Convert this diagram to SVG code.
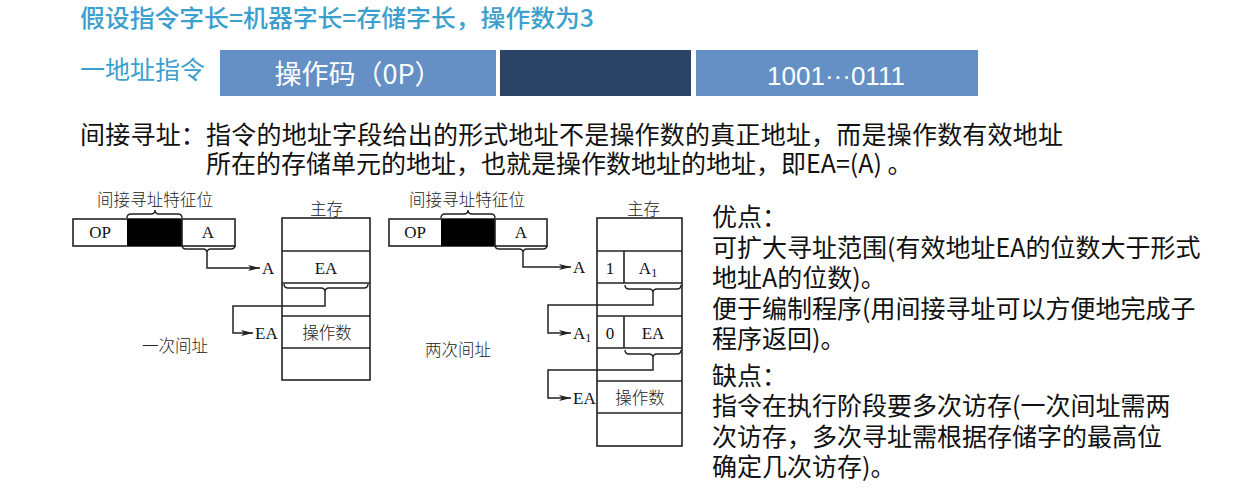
<svg xmlns="http://www.w3.org/2000/svg" width="1241" height="491" viewBox="0 0 1241 491">
<style>
.hd{font-family:"Noto Sans CJK SC","Liberation Sans",sans-serif;fill:#3c9fce}
.bartxt{font-family:"Noto Sans CJK SC","Liberation Sans",sans-serif;fill:#ffffff}
.num{font-family:"Liberation Sans",Arial,sans-serif;fill:#ffffff}
.body{font-family:"Noto Sans CJK SC","Liberation Sans",sans-serif;fill:#111;font-size:25px}
.cj{font-family:"Noto Sans CJK SC",sans-serif;fill:#222;font-size:16.5px;font-weight:300}
.sf{font-family:"Liberation Serif",serif;fill:#111;font-size:17px}
.box{fill:none;stroke:#222;stroke-width:1.6}
.ln{fill:none;stroke:#222;stroke-width:1.5}
.br{fill:none;stroke:#222;stroke-width:1.4}
</style>
<defs>
<marker id="arr" viewBox="0 0 12 6" refX="12" refY="3" markerWidth="12" markerHeight="6" markerUnits="userSpaceOnUse" orient="auto">
<path d="M0,0 L12,3 L0,6 L3,3 Z" fill="#222"/>
</marker>
</defs>
<rect width="1241" height="491" fill="#ffffff"/>

<g id="title">
<text class="hd" x="80" y="27" font-size="24" font-weight="500" textLength="514" lengthAdjust="spacingAndGlyphs">假设指令字长=机器字长=存储字长，操作数为3</text>
</g>
<g id="label-one-address">
<text class="hd" x="80" y="79" font-size="25">一地址指令</text>
</g>
<g id="bar-opcode">
<rect x="220" y="50" width="276" height="46" fill="#6590c6"/>
<text class="bartxt" x="358" y="84" font-size="27" text-anchor="middle">操作码（0P）</text>
</g>
<g id="bar-mode">
<rect x="500" y="50" width="191" height="46" fill="#2b4466"/>
</g>
<g id="bar-address">
<rect x="696" y="50" width="282" height="46" fill="#6590c6"/>
<text class="num" x="836" y="85" font-size="26" text-anchor="middle">1001···0111</text>
</g>

<g id="definition">
<text class="body" x="80" y="144" textLength="983">间接寻址：指令的地址字段给出的形式地址不是操作数的真正地址，而是操作数有效地址</text>
<text class="body" x="206" y="173">所在的存储单元的地址，也就是操作数地址的地址，即EA=(A) 。</text>
</g>

<g id="left-instruction">
<text class="cj" x="97" y="206" textLength="116">间接寻址特征位</text>
<path class="br" d="M127,218 Q127,214 131,214 L151,214 Q155,214 155,210 Q155,214 159,214 L178,214 Q182,214 182,218"/>
<rect class="box" x="73" y="219" width="162" height="27"/>
<rect x="127" y="219" width="55" height="27" fill="#000"/>
<line class="box" x1="182" y1="219" x2="182" y2="246"/>
<text class="sf" x="100" y="238" text-anchor="middle">OP</text>
<text class="sf" x="208" y="238" text-anchor="middle">A</text>
<path class="br" d="M182,245 Q182,249 186,249 L203,249 Q207,249 207,253 Q207,249 211,249 L231,249 Q235,249 235,245"/>
</g>

<g id="left-memory">
<text class="cj" x="310" y="215">主存</text>
<rect class="box" x="282" y="218" width="88" height="162"/>
<line class="box" x1="282" y1="251" x2="370" y2="251"/>
<line class="box" x1="282" y1="283" x2="370" y2="283"/>
<line class="box" x1="282" y1="316" x2="370" y2="316"/>
<line class="box" x1="282" y1="348" x2="370" y2="348"/>
<text class="sf" x="326" y="274" text-anchor="middle">EA</text>
<text class="cj" x="327" y="339" text-anchor="middle">操作数</text>
<path class="br" d="M284,284 Q284,288 288,288 L321,288 Q325,288 325,292 Q325,288 329,288 L364,288 Q368,288 368,284"/>
<text class="sf" x="262" y="274">A</text>
<text class="sf" x="255" y="339">EA</text>
</g>
<g id="left-caption">
<text class="cj" x="142" y="352">一次间址</text>
</g>

<g id="right-instruction">
<text class="cj" x="409" y="206" textLength="116">间接寻址特征位</text>
<path class="br" d="M441,218 Q441,214 445,214 L464,214 Q468,214 468,210 Q468,214 472,214 L491,214 Q495,214 495,218"/>
<rect class="box" x="389" y="219" width="158" height="27"/>
<rect x="441" y="219" width="54" height="27" fill="#000"/>
<line class="box" x1="495" y1="219" x2="495" y2="246"/>
<text class="sf" x="415" y="238" text-anchor="middle">OP</text>
<text class="sf" x="521" y="238" text-anchor="middle">A</text>
<path class="br" d="M495,245 Q495,249 499,249 L519,249 Q523,249 523,253 Q523,249 527,249 L543,249 Q547,249 547,245"/>
</g>

<g id="right-memory">
<text class="cj" x="627" y="215">主存</text>
<rect class="box" x="597" y="218" width="85" height="228"/>
<line class="box" x1="597" y1="251" x2="682" y2="251"/>
<line class="box" x1="597" y1="283" x2="682" y2="283"/>
<line class="box" x1="597" y1="316" x2="682" y2="316"/>
<line class="box" x1="597" y1="348" x2="682" y2="348"/>
<line class="box" x1="597" y1="381" x2="682" y2="381"/>
<line class="box" x1="597" y1="413" x2="682" y2="413"/>
<line class="box" x1="624" y1="251" x2="624" y2="283"/>
<line class="box" x1="624" y1="316" x2="624" y2="348"/>
<text class="sf" x="610" y="274" text-anchor="middle">1</text>
<text class="sf" x="648" y="274" text-anchor="middle">A<tspan font-size="12" dy="3">1</tspan></text>
<text class="sf" x="610" y="339" text-anchor="middle">0</text>
<text class="sf" x="653" y="339" text-anchor="middle">EA</text>
<text class="cj" x="640" y="404" text-anchor="middle">操作数</text>
<path class="br" d="M625,285 Q625,289 629,289 L649,289 Q653,289 653,293 Q653,289 657,289 L677,289 Q681,289 681,285"/>
<path class="br" d="M625,350 Q625,354 629,354 L649,354 Q653,354 653,358 Q653,354 657,354 L677,354 Q681,354 681,350"/>
<text class="sf" x="573" y="273">A</text>
<text class="sf" x="573" y="339">A<tspan font-size="12" dy="3">1</tspan></text>
<text class="sf" x="573" y="404">EA</text>
</g>
<g id="right-caption">
<text class="cj" x="425" y="356">两次间址</text>
</g>

<g id="connectors">
<polyline class="ln" points="207,253 207,268 260,268" marker-end="url(#arr)"/>
<polyline class="ln" points="325,292 325,306 233,306 233,333 253,333" marker-end="url(#arr)"/>
<polyline class="ln" points="523,253 523,267 571,267" marker-end="url(#arr)"/>
<polyline class="ln" points="653,293 653,305 548,305 548,333 571,333" marker-end="url(#arr)"/>
<polyline class="ln" points="653,358 653,370 548,370 548,398 571,398" marker-end="url(#arr)"/>
</g>

<g id="pros-cons">
<text class="body" x="712" y="226">优点：</text>
<text class="body" x="712" y="257">可扩大寻址范围(有效地址EA的位数大于形式</text>
<text class="body" x="712" y="287">地址A的位数)。</text>
<text class="body" x="712" y="318">便于编制程序(用间接寻址可以方便地完成子</text>
<text class="body" x="712" y="348">程序返回)。</text>
<text class="body" x="712" y="385">缺点：</text>
<text class="body" x="712" y="415">指令在执行阶段要多次访存(一次间址需两</text>
<text class="body" x="712" y="446">次访存，多次寻址需根据存储字的最高位</text>
<text class="body" x="712" y="476">确定几次访存)。</text>
</g>
</svg>
